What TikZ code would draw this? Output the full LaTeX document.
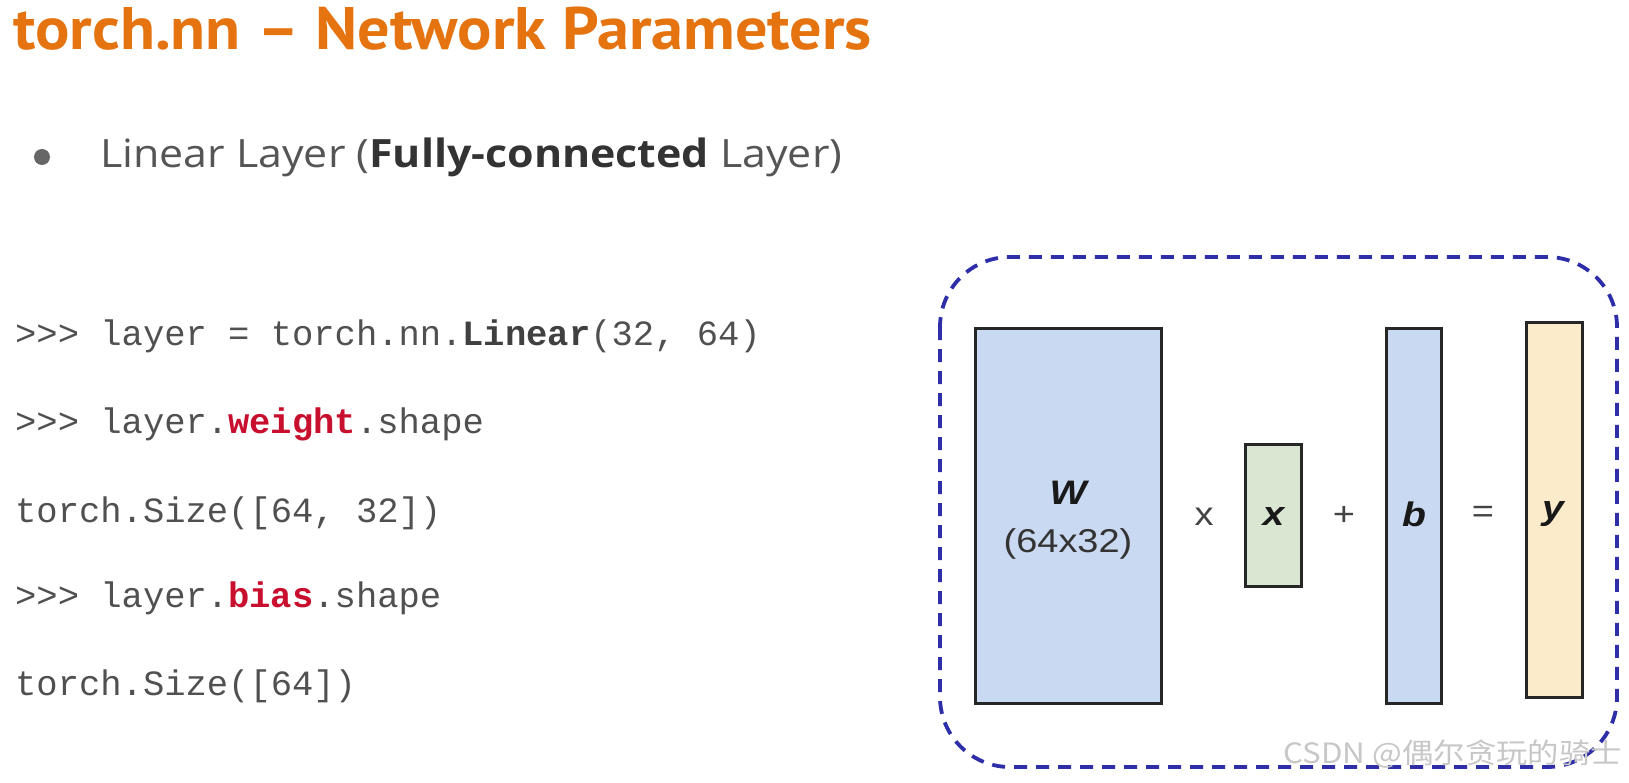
\documentclass[tikz,border=0pt]{standalone}
\usepackage{fontspec}
\setmainfont{Liberation Sans}
\newfontfamily\titlefont[FakeStretch=1.07]{PT Sans}
\newfontfamily\bodyfont[FakeStretch=1.1]{Open Sans}
\newfontfamily\codefont{Liberation Mono}
\newfontfamily\diagfont[FakeStretch=1.15]{Liberation Sans}
\newfontfamily\cjkfont[FakeStretch=1.12]{Noto Sans CJK SC}
\definecolor{titleorange}{HTML}{E5730F}
\definecolor{codegray}{HTML}{505050}
\definecolor{codered}{HTML}{C8102E}
\definecolor{bodygray}{HTML}{555555}
\definecolor{dashblue}{HTML}{2E2EA8}
\definecolor{wblue}{HTML}{C9D9F2}
\definecolor{xgreen}{HTML}{D9E7D2}
\definecolor{yyellow}{HTML}{FBEBCB}
\definecolor{oper}{HTML}{444444}
\tikzset{
  codeline/.style={anchor=base west, inner sep=0pt, text=codegray, font=\codefont\fontsize{35.5}{40}\selectfont},
  matbox/.style={draw=black!85, line width=3pt, inner sep=0pt},
  opsym/.style={text=oper, font=\diagfont\fontsize{33}{36}\selectfont, inner sep=0pt},
  varlbl/.style={font=\diagfont\bfseries\itshape\fontsize{34}{37}\selectfont, text=black!90, inner sep=0pt}
}
\begin{document}
\begin{tikzpicture}[x=1pt,y=-1pt]
\useasboundingbox[fill=white] (0,0) rectangle (1629,783);
% title
\node[anchor=base west, inner sep=0pt, text=titleorange, font=\titlefont\bfseries\fontsize{60}{63}\selectfont] (title) at (13,50) {torch.nn – Network Parameters};
% bullet
\node[circle, fill=bodygray!90, inner sep=0pt, minimum size=16pt] (bullet) at (42,157) {};
\node[anchor=base west, inner sep=0pt, text=bodygray, font=\bodyfont\fontsize{39}{42}\selectfont] (bul) at (100,168) {Linear Layer ({\color{black!80}\bfseries Fully-connected} Layer)};
% code
\node[codeline] (c1) at (15,345) {>{}>{}> layer = torch.nn.{\color{black!75}\bfseries Linear}(32, 64)};
\node[codeline] (c2) at (15,433) {>{}>{}> layer.{\color{codered}\bfseries weight}.shape};
\node[codeline] (c3) at (15,522) {torch.Size([64, 32])};
\node[codeline] (c4) at (15,607) {>{}>{}> layer.{\color{codered}\bfseries bias}.shape};
\node[codeline] (c5) at (15,695) {torch.Size([64])};
% dashed frame
\draw[dashblue, line width=3.8pt, dash pattern=on 13pt off 9pt, rounded corners=70pt] (940,257) rectangle (1617,767);
% matrices
\node[matbox, fill=wblue, minimum width=186pt, minimum height=375pt] (W) at (1068,515.5) {};
\node[matbox, fill=xgreen, minimum width=56pt, minimum height=142pt] (X) at (1273.5,515.5) {};
\node[matbox, fill=wblue, minimum width=55pt, minimum height=375pt] (B) at (1413.5,515.5) {};
\node[matbox, fill=yyellow, minimum width=56pt, minimum height=374pt] (Y) at (1554,510) {};
% labels
\node[varlbl] (Wl) at (1068,493) {W};
\node[text=black!80, font=\diagfont\fontsize{33}{36}\selectfont, inner sep=0pt] (Wd) at (1068,544) {(64x32)};
\node[varlbl] (Xl) at (1273.5,517) {x};
\node[varlbl] (Bl) at (1414,514) {b};
\node[varlbl] (Yl) at (1553,514) {y};
\node[opsym] (times) at (1204,517) {x};
\node[opsym] (plus) at (1344,516) {+};
\node[opsym] (eq) at (1483,514) {=};
% watermark
\node[anchor=east, inner sep=0pt, text=black!22, font=\cjkfont\fontsize{28}{30}\selectfont] (wm) at (1622,754) {CSDN @偶尔贪玩的骑士};
\end{tikzpicture}
\end{document}
